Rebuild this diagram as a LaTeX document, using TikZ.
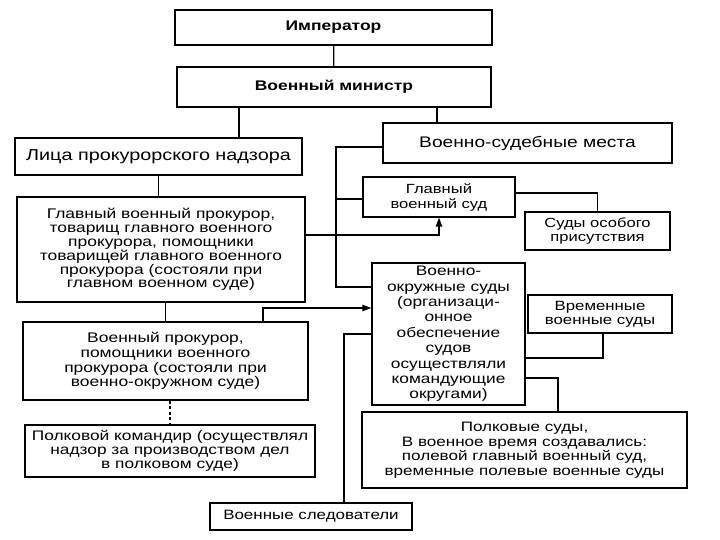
\documentclass[tikz,border=0pt]{standalone}
\usepackage{fontspec}
\setmainfont{Liberation Sans}[FakeStretch=1.25]
\usetikzlibrary{arrows.meta}
\begin{document}
\begin{tikzpicture}[x=1bp,y=-1bp,
  fs/.style n args={2}{font=\fontsize{#1}{#2}\selectfont},
  box/.style={draw, line width=1.4pt, align=center, inner sep=2pt},
  bbox/.style={box, font=\fontsize{14}{15}\selectfont\bfseries},
  conn/.style={line width=1.2pt},
  arr/.style={conn, -{Triangle[length=9bp,width=6.5bp]}}]
\useasboundingbox (0,0) rectangle (720,540);
\fill[white] (0,0) rectangle (720,540);

\node[bbox, minimum width=317bp, minimum height=35bp] (imp) at (333.5,27.5) {Император};
\node[bbox, minimum width=314bp, minimum height=40bp] (min) at (334,87) {Военный министр};
\node[box, fs={15.9}{17}, minimum width=287bp, minimum height=37bp] (lica) at (158.5,156.5) {Лица прокурорского надзора};
\node[box, fs={15.4}{17}, minimum width=289bp, minimum height=40bp, text depth=2bp] (vsm) at (527.5,143) {Военно-судебные места};
\node[box, fs={14}{13.9}, minimum width=288bp, minimum height=105bp] (gvp) at (161,249.5)
  {Главный военный прокурор,\\товарищ главного военного\\прокурора, помощники\\товарищей главного военного\\прокурора (состояли при\\главном военном суде)\vphantom{\rule{0pt}{8bp}}};
\node[box, fs={13.3}{15}, minimum width=152bp, minimum height=40bp] (gvs) at (439,197) {Главный\\военный суд};
\node[box, fs={13.3}{14}, minimum width=145bp, minimum height=38bp] (sop) at (597.5,231) {Суды особого\\присутствия};
\node[box, fs={13.9}{15.4}, minimum width=153bp, minimum height=142bp] (vos) at (448.5,334)
  {Военно-\\окружные суды\\(организаци-\\онное\\обеспечение\\судов\\осуществляли\\командующие\\округами)};
\node[box, fs={13.5}{14}, minimum width=144bp, minimum height=38bp] (vvs) at (600,314) {Временные\\военные суды};
\node[box, fs={13.7}{14.6}, minimum width=325bp, minimum height=76bp] (pols) at (524.5,450)
  {Полковые суды,\\В военное время создавались:\\полевой главный военный суд,\\временные полевые военные суды};
\node[box, fs={14}{14.7}, minimum width=285bp, minimum height=78bp] (vp) at (165.5,361)
  {Военный прокурор,\\помощники военного\\прокурора (состояли при\\военно-окружном суде)};
\node[box, fs={13.9}{14.2}, minimum width=290bp, minimum height=52bp] (pk) at (170,451)
  {Полковой командир (осуществлял\\надзор за производством дел\\в полковом суде)};
\node[box, fs={13.6}{14}, minimum width=202bp, minimum height=27bp] (vsl) at (311,516.5) {Военные следователи};

\coordinate (xa) at (239,0);
\coordinate (xb) at (437,0);
\coordinate (xl) at (336,0);
\coordinate (xv) at (344,0);

\draw[conn] (imp) -- (min);
\draw[conn] (min.south -| xa) -- (lica.north -| xa);
\draw[conn] (min.south -| xb) -- (vsm.north -| xb);
\draw[conn] (lica.south) -- (lica.south |- gvp.north);
\draw[conn] ([yshift=-4bp]vsm.west) -| ([yshift=47bp]vos.west -| xl) -- ([yshift=47bp]vos.west);
\draw[conn] ([yshift=-2bp]gvs.west) -- ([yshift=-2bp]gvs.west -| xl);
\draw[conn] ([yshift=4bp]gvs.east) -| (sop.north);
\draw[arr] ([yshift=14.5bp]gvp.east) -| (gvs.south);
\draw[conn] ([xshift=3bp]vvs.south) |- ([yshift=-24bp]vos.east);
\draw[conn] ([yshift=-44bp]vos.east) -| ([xshift=33.5bp]pols.north);
\draw[conn] (vp.north |- gvp.south) -- (vp.north);
\draw[arr] ([xshift=97.5bp]vp.north) |- ([yshift=26bp]vos.west);
\draw[conn, dash pattern=on 3bp off 2.5bp] (pk.north |- vp.south) -- (pk.north);
\draw[conn] (vos.west) -| (vsl.north -| xv);
\end{tikzpicture}
\end{document}
